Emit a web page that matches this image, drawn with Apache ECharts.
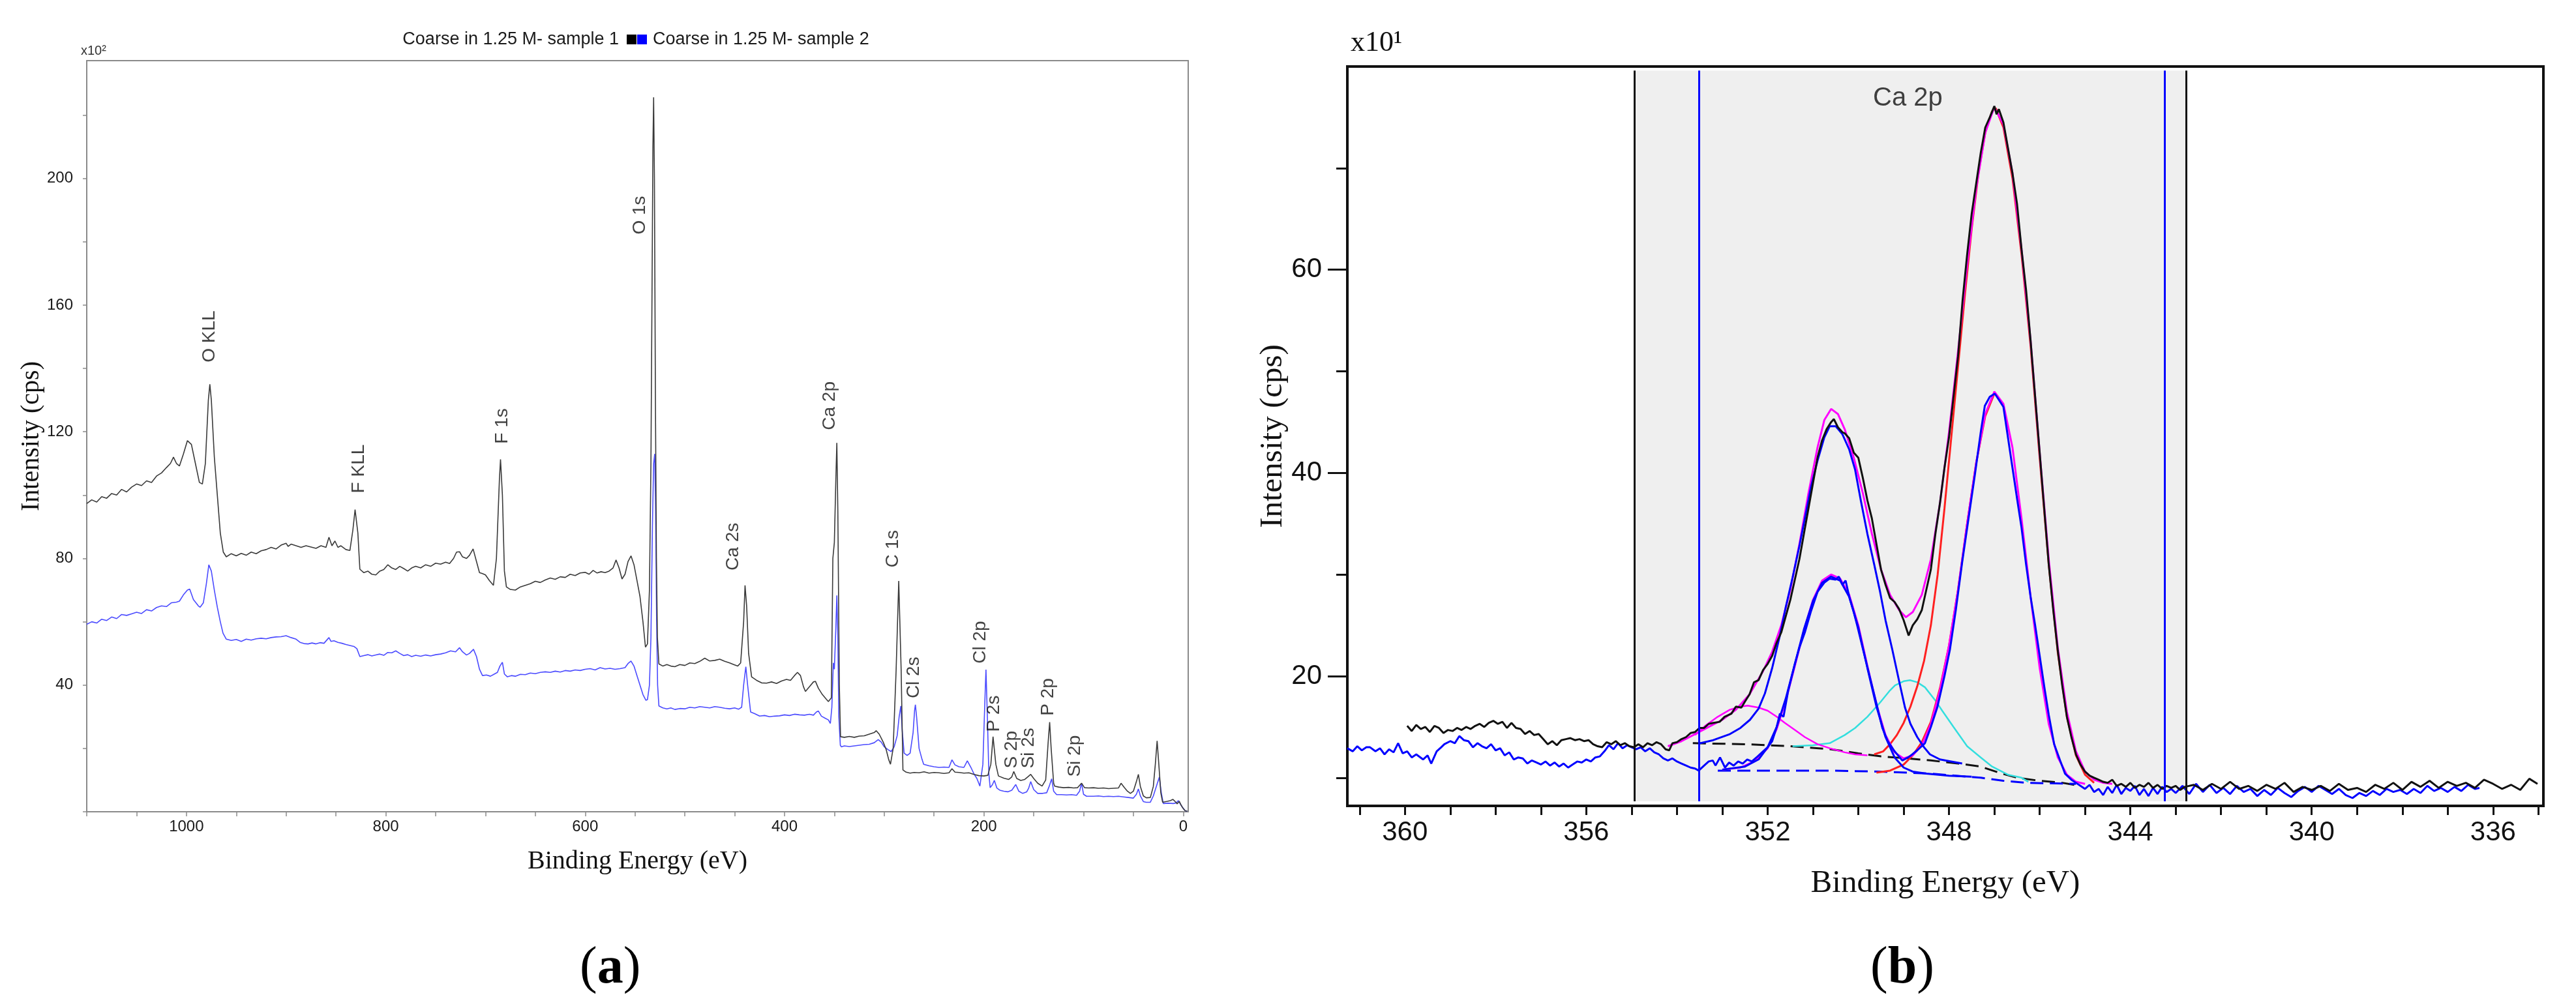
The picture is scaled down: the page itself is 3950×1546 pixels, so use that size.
<!DOCTYPE html>
<html><head><meta charset="utf-8">
<script src="https://cdn.jsdelivr.net/npm/echarts@6/dist/echarts.min.js"></script>
<style>html,body{margin:0;padding:0;background:#fff}#c{width:3950px;height:1546px}</style>
</head><body><div id="c"></div>
<script>
// ---------- Panel (a): survey spectra ----------
const surveyNameS1 = 'Coarse in 1.25 M- sample 1';
const surveyNameS2 = 'Coarse in 1.25 M- sample 2';
const surveyS1 = [[1100,97.3],[1095,98.5],[1090,97.8],[1085,99.5],[1080,99],[1075,100.5],[1070,100],[1065,101.8],[1060,101],[1055,102.5],[1050,103.5],[1045,103],[1040,104.5],[1035,104],[1030,106],[1025,107],[1020,108.7],[1016,110],[1013,112],[1010,110],[1007,109.2],[1003,113],[999,117.2],[995,116],[991,110],[987,104],[984,103.5],[981,110],[978,130],[976.5,135],[975,130],[972,112],[969,100],[966,88],[963,82],[960,80.5],[955,81.5],[950,80.8],[945,81.6],[940,81],[935,82],[930,81.5],[925,82.4],[920,82.8],[915,83.5],[910,83],[905,84.2],[900,84.8],[898,83.8],[895,84.5],[890,84],[885,83.5],[880,84],[875,83.6],[870,83.2],[865,84],[860,83.5],[857,86.7],[854,84],[851,85.5],[848,83.5],[845,84],[840,82.8],[836,82.5],[833,89],[830.8,95.4],[828,88],[826,76.6],[822,75.5],[818,76],[814,75],[810,74.8],[806,76],[802,76.5],[798,78],[794,77],[790,76.5],[786,77.5],[782,76.8],[778,76],[774,77],[770,77.5],[765,77],[760,78],[755,77.5],[750,78.5],[745,78.2],[740,78.8],[736,78.4],[732,80],[729,82],[726,82.1],[723,80.5],[719,80],[716,81],[712.4,83],[709,79],[706,75.5],[703,75.2],[700,74.8],[696,73],[692,71.5],[689,80],[686,105],[684.9,111.3],[683,100],[681,76],[679,71],[675,70.2],[670,70],[665,71],[660,71.5],[655,72],[650,72.8],[645,72.4],[640,73.2],[635,73.8],[630,73.4],[625,74.2],[620,74],[615,75],[610,74.6],[605,75.4],[600,75.6],[596,75],[592,76.2],[588,75.4],[584,75.8],[580,75.5],[576,76],[572,77],[569,79.5],[566,77],[563,73.5],[560,75],[557,79],[554,80.8],[551,78],[548,73],[545,68],[542,60],[539.5,52],[537.5,53],[535.5,70],[534,110],[533,160],[532,210],[531.3,225.6],[530.5,200],[529.5,130],[528.5,80],[527.5,55],[526,46.7],[522,46],[518,46.5],[514,46],[510,45.8],[505,46.5],[500,46.2],[495,47],[490,46.8],[485,47.5],[480,48.5],[475,47.6],[470,47.8],[465,48.2],[460,47.5],[455,47],[451,46.5],[447,46],[444,47],[441,60],[439.6,71.5],[438,65],[436,50],[433,42.6],[428,41.5],[423,40.7],[418,40.6],[413,41],[408,40.5],[403,41.3],[398,41.8],[394,41.5],[390,43],[387,44],[384,43],[381,39.5],[379,38],[375,39.5],[371,41],[369,41.2],[366,39],[362,37],[358,35.5],[356,34.8],[353,36],[351.5,80],[350,85],[348.5,105],[347.5,116.5],[346.5,95],[345,40],[343.8,23.7],[340,23.5],[335,23.8],[330,23.5],[325,23.9],[320,24],[315,24.5],[310,25],[308,25.6],[305,24.5],[301,22],[298,19.6],[295.5,16.5],[293.7,15],[291,20],[288,45],[285.4,72.9],[283,45],[281.2,13.2],[278,12.5],[274,12.2],[270,12.4],[265,12.3],[260,12.6],[255,12.2],[250,12.4],[245,12.3],[240,12.1],[235,12.3],[232,13.6],[229,12.5],[225,12.4],[220,12.2],[215,12.3],[210,11.8],[205,11.4],[200,11.3],[196,11.5],[193,15],[190.8,23.7],[188,15],[185.4,11.3],[180,10.6],[175,10.2],[172,11],[170,12.7],[167,10.5],[163,9.9],[159,10.2],[156,11],[153,11.8],[150,10.5],[146,9],[141.6,8.1],[138,10],[135.5,22],[134,28.3],[132.5,20],[130,9],[129,8.1],[125,7.8],[120,7.6],[115,7.7],[110,7.5],[106,7.6],[102,9],[99,7.6],[95,7.5],[90,7.6],[85,7.4],[80,7.5],[75,7.3],[70,7.4],[65,7.5],[62.4,9],[59,7.6],[56,6.5],[53,5.8],[50,6.5],[47,9.5],[45,11.8],[43,8],[40,5],[37,4.4],[33,4.5],[30,8],[28,15],[26.2,22.4],[24.5,15],[22.5,6],[20.7,3],[16,3.3],[13,3.5],[10.3,3.9],[8,3.2],[6,2.5],[4,3.3],[2,2],[0,1],[-2,0.3],[-4,0.2]];
const surveyS2 = [[1100,59.2],[1095,60],[1090,59.6],[1085,60.8],[1080,60.4],[1075,61.5],[1070,61],[1065,62.3],[1060,62],[1055,62.5],[1050,63],[1045,62.6],[1040,63.8],[1035,63.4],[1030,64.5],[1025,65],[1020,64.8],[1015,66],[1010,66.2],[1007,66.5],[1003,68.5],[999,70],[996.7,70.3],[993,67],[988,65],[986.2,64.6],[983,66],[980,72],[977.5,78],[976.7,78.4],[975,76],[972,70],[969,64.6],[966,60],[963.3,56.4],[960,54.5],[955,54.1],[950,54.4],[945,53.8],[940,54.5],[935,54.2],[930,54.6],[925,54.8],[920,54.6],[915,55],[910,55.2],[905,55.3],[900,55.6],[898.7,55.4],[895,55],[890,54.5],[886,53.5],[882,53.1],[878,53],[874,53.3],[870,53],[866,53.4],[862,53.2],[857,55],[855,53.8],[852,54],[848,53.5],[844,53.2],[840,52.8],[836,52.5],[832,52.2],[829,51.5],[826,49],[822,49.3],[818,49.6],[814,49.2],[810,49.5],[806,49.8],[802,49.4],[798,50.3],[794,50.2],[790,50.8],[786,50],[782,49.3],[778,49.6],[774,49],[770,49.4],[765,49.1],[760,49.5],[755,49.2],[750,49.6],[745,49.8],[740,50.2],[735,50.8],[730,50.5],[726,51.8],[723,50.5],[719,49.5],[716,50],[712,51.3],[709,49],[706,45],[703,43],[699,43.2],[695,42.8],[691,43.5],[688,44],[685.5,46],[683,47.2],[681,43.5],[678,42.6],[674,43],[670,42.8],[665,43.4],[660,43.3],[655,43.8],[650,43.6],[645,44],[640,44.2],[635,44],[630,44.4],[625,44.1],[620,44.6],[615,44.4],[610,44.8],[605,44.6],[600,45],[595,45.2],[590,44.8],[585,45.5],[580,45.1],[575,45.3],[570,45],[565,45.2],[560,45.5],[557,46.8],[554,47.6],[551,46],[548,43],[545,40],[542,37],[539,35.2],[537.5,35.4],[535.5,40],[534,55],[532.5,90],[531.3,110],[530.2,113],[529.3,95],[528.3,60],[527.3,40],[526,33.4],[522,32.8],[518,32.5],[514,32.8],[510,32.3],[505,32.6],[500,32.5],[495,33],[490,32.8],[485,33.2],[480,33],[475,32.8],[470,33.2],[465,33],[460,32.7],[455,32.5],[450,32.8],[446,32.4],[443,33],[441,40],[438.8,45.8],[437,40],[434,31.5],[430,31],[425,30.2],[420,30.4],[415,30],[410,30.2],[405,30.3],[400,30.6],[395,30.4],[390,30.8],[385,30.6],[380,30.5],[375,30.8],[371,30.5],[368,31.5],[366,31.8],[363,30.2],[359,29.5],[356,29],[354,27.9],[352.5,33],[351,47],[350,45],[348.5,58],[347.5,68.3],[346.5,55],[345.5,30],[344,21],[343,20.5],[340,20.8],[335,20.6],[330,20.8],[325,21],[320,21.2],[315,21.3],[310,21.8],[306,22.8],[303,22],[300,20.5],[296,19.6],[293,19],[290,20.5],[287,24],[285,30],[283.3,33.4],[282,26],[280,18.5],[277,17.8],[274,18.5],[271,25],[269.5,32],[268.7,33.8],[267.5,30],[265,20],[262,16.5],[260.4,15],[255,14.5],[250,14.2],[245,14],[240,14.1],[235,14],[232,16.4],[229,14.8],[225,14.2],[220,14],[216.6,16.1],[213,14],[210,12],[207,10.5],[204,8.1],[201,15],[199,35],[197.9,44.9],[196.5,30],[195,12],[193.7,7.6],[191.5,8.5],[189.5,9.9],[187,7.5],[184,6.8],[180,6.5],[176,6.3],[172,6.8],[168,8.6],[165,6.5],[161,5.8],[157,6.3],[155,7.5],[153,9.5],[150,7],[146,5.8],[141,5.8],[137,6],[134.5,8],[132,10.4],[130,6.5],[127,5.4],[122,5.4],[117,5.3],[112,5.4],[107,5.2],[104,6.5],[102,9],[100,5.5],[97,4.9],[90,4.9],[85,5],[80,4.8],[75,4.9],[70,4.8],[65,4.9],[60,4.7],[55,4.5],[50,4.3],[47,5.5],[45,7.2],[43,5],[40,3.2],[37,3],[33,3],[30,5],[27,8],[24,10.9],[22,6],[20,2.6],[15,2.7],[10,2.6],[7,2.8],[5,3.5],[3,2.5],[1,1.5],[-2,0.3],[-4,0.2]];
// peak annotations: [text, binding energy, intensity at text start]
const surveyPeakLabels = [['O KLL',976.6,141.8],['F KLL',827,100.5],['F 1s',683,116.1],['O 1s',545,182.2],['Ca 2p',354,120.4],['Ca 2s',451.3,76.1],['C 1s',290.8,77],['Cl 2s',270,35.7],['Cl 2p',202.9,46.7],['P 2s',189.5,25.1],['S 2p',172,13.6],['Si 2s',155,13.6],['P 2p',135.4,30.2],['Si 2p',108.2,10.9]];
const surveyXRange = [-5, 1100];
const surveyYRange = [0, 237.2];
const surveyXTicks = [0,50,100,150,200,250,300,350,400,450,500,550,600,650,700,750,800,850,900,950,1000,1050,1100];
const surveyXLabels = [0,200,400,600,800,1000];
const surveyYTicks = [0,20,40,60,80,100,120,140,160,180,200,220];
const surveyYLabels = [40,80,120,160,200];

// ---------- Panel (b): Ca 2p high resolution ----------
const ca2pRawS1 = [[359.95,15.1],[359.85,14.6],[359.75,15.2],[359.65,14.8],[359.55,15.0],[359.45,14.5],[359.35,15.1],[359.25,14.9],[359.15,14.4],[359.05,14.7],[358.95,14.6],[358.85,14.9],[358.75,14.7],[358.65,15.0],[358.55,14.8],[358.45,15.1],[358.35,15.3],[358.25,15.0],[358.15,15.4],[358.05,15.6],[357.95,15.3],[357.85,15.5],[357.75,14.9],[357.65,15.4],[357.55,14.9],[357.45,14.8],[357.35,14.3],[357.25,14.6],[357.15,14.2],[357.05,14.3],[356.95,13.8],[356.85,13.3],[356.75,13.6],[356.65,13.2],[356.55,13.7],[356.45,13.8],[356.35,13.9],[356.25,13.7],[356.15,13.8],[356.05,13.6],[355.95,13.7],[355.85,13.3],[355.75,13.1],[355.65,13.0],[355.55,13.5],[355.45,13.3],[355.35,13.6],[355.25,13.2],[355.15,13.4],[355.05,13.1],[354.95,13.0],[354.85,13.3],[354.75,13.0],[354.65,13.4],[354.55,13.2],[354.45,13.5],[354.35,13.3],[354.25,12.8],[354.17,12.7],[354.1,13.4],[354.0,13.5],[353.9,13.8],[353.8,14.0],[353.7,14.4],[353.6,14.5],[353.5,14.9],[353.4,14.9],[353.3,15.3],[353.2,15.4],[353.06,15.5],[352.95,16.0],[352.8,16.3],[352.7,17.0],[352.58,16.9],[352.5,17.5],[352.4,18.2],[352.3,19.4],[352.2,19.6],[352.1,20.6],[352.0,21.2],[351.9,22.0],[351.8,23.3],[351.7,24.3],[351.6,25.9],[351.5,27.5],[351.4,29.5],[351.3,31.5],[351.2,34.0],[351.1,36.5],[351.0,39.0],[350.9,41.5],[350.8,43.2],[350.7,44.3],[350.6,45.0],[350.54,45.3],[350.45,44.5],[350.35,44.0],[350.3,43.9],[350.2,43.4],[350.1,42.0],[350.0,41.5],[349.9,39.5],[349.8,37.3],[349.7,35.5],[349.6,33.0],[349.5,30.5],[349.4,29.0],[349.3,27.7],[349.2,27.3],[349.1,26.6],[349.0,25.5],[348.89,24.0],[348.8,25.0],[348.7,25.6],[348.6,26.5],[348.5,28.5],[348.4,30.5],[348.3,34.0],[348.2,37.0],[348.1,40.5],[348.0,43.5],[347.9,47.5],[347.8,51.5],[347.7,57.0],[347.6,61.5],[347.5,65.5],[347.4,68.5],[347.3,71.5],[347.2,74.0],[347.1,75.0],[347.0,76.1],[346.95,75.3],[346.9,75.8],[346.8,74.5],[346.7,72.0],[346.6,69.5],[346.5,66.5],[346.4,62.0],[346.3,58.0],[346.2,53.0],[346.1,47.5],[346.0,42.0],[345.9,36.5],[345.8,31.0],[345.7,26.5],[345.6,22.5],[345.5,19.0],[345.4,16.0],[345.3,14.0],[345.2,12.3],[345.1,11.3],[345.0,10.6],[344.9,10.2],[344.8,10.0],[344.7,9.8],[344.6,9.6],[344.5,9.5],[344.4,9.8],[344.3,9.2],[344.2,9.4],[344.1,9.1],[344.0,9.5],[343.9,9.0],[343.8,9.3],[343.7,9.1],[343.6,9.5],[343.5,9.0],[343.4,9.3],[343.3,8.9],[343.2,9.2],[343.1,9.0],[343.0,9.2],[342.9,8.8],[342.8,9.1],[342.6,9.3],[342.4,8.8],[342.2,9.4],[342.0,8.9],[341.8,9.6],[341.6,8.9],[341.4,9.2],[341.2,8.7],[341.0,9.3],[340.8,8.9],[340.6,9.5],[340.4,8.6],[340.2,9.1],[340.0,8.8],[339.8,9.2],[339.6,8.7],[339.4,9.4],[339.2,8.8],[339.0,9.0],[338.8,8.6],[338.6,9.3],[338.4,8.9],[338.2,9.5],[338.0,8.8],[337.8,9.6],[337.6,9.1],[337.4,9.7],[337.2,9.0],[337.0,9.6],[336.8,9.2],[336.6,9.5],[336.4,9.0],[336.2,9.8],[336.0,9.4],[335.8,8.9],[335.6,9.3],[335.4,8.8],[335.2,9.9],[335.02,9.4]];
const ca2pRawS2 = [[361.27,12.9],[361.15,12.6],[361.05,13.1],[360.95,12.7],[360.85,13.0],[360.77,13.0],[360.65,12.6],[360.55,12.9],[360.45,12.3],[360.35,12.8],[360.25,12.5],[360.15,13.4],[360.05,12.4],[359.95,12.6],[359.85,12.0],[359.75,12.3],[359.6,11.8],[359.5,12.2],[359.42,11.4],[359.3,12.6],[359.2,13.0],[359.13,13.3],[359.0,13.6],[358.9,13.4],[358.8,14.1],[358.7,13.7],[358.6,13.6],[358.5,13.0],[358.4,13.4],[358.3,13.1],[358.2,12.9],[358.1,13.3],[358.0,12.7],[357.9,12.9],[357.8,12.2],[357.7,12.5],[357.6,11.8],[357.5,12.0],[357.4,11.9],[357.3,11.4],[357.2,11.7],[357.1,11.5],[357.0,11.3],[356.9,11.6],[356.8,11.2],[356.7,11.5],[356.6,11.1],[356.5,11.4],[356.4,11.0],[356.3,11.3],[356.2,11.6],[356.1,11.5],[356.0,11.8],[355.9,11.6],[355.8,12.0],[355.7,12.1],[355.6,12.6],[355.5,13.2],[355.4,12.8],[355.3,13.4],[355.2,12.9],[355.1,13.2],[355.0,13.0],[354.9,12.8],[354.8,13.0],[354.7,12.6],[354.6,12.9],[354.5,12.5],[354.4,12.3],[354.3,11.9],[354.2,11.7],[354.1,11.9],[354.0,11.6],[353.9,11.4],[353.8,11.2],[353.7,11.0],[353.6,10.9],[353.52,10.7],[353.4,11.2],[353.3,11.6],[353.21,11.7],[353.15,11.2],[353.05,12.0],[352.94,11.0],[352.85,11.5],[352.75,11.2],[352.65,11.6],[352.55,11.4],[352.45,11.8],[352.35,11.6],[352.22,12.1],[352.1,12.6],[352.0,13.0],[351.9,13.6],[351.8,15.0],[351.73,16.3],[351.65,16.0],[351.55,18.5],[351.4,21.2],[351.3,22.8],[351.18,24.3],[351.05,26.3],[350.9,28.3],[350.75,29.2],[350.63,29.6],[350.5,29.5],[350.43,29.8],[350.35,29.0],[350.28,29.4],[350.2,27.8],[350.1,26.3],[350.02,24.9],[349.9,22.7],[349.75,20.0],[349.6,17.3],[349.47,14.9],[349.35,13.6],[349.2,12.6],[349.03,11.7],[348.9,12.0],[348.81,12.3],[348.7,12.7],[348.53,13.4],[348.4,15.0],[348.26,16.9],[348.1,20.0],[347.98,22.6],[347.85,26.5],[347.71,31.2],[347.57,35.5],[347.43,39.8],[347.3,44.0],[347.21,46.6],[347.1,47.5],[346.99,47.8],[346.9,47.2],[346.8,46.5],[346.7,43.5],[346.6,40.5],[346.5,37.5],[346.4,34.6],[346.3,31.0],[346.2,27.8],[346.1,25.0],[346.0,22.0],[345.9,19.0],[345.8,16.2],[345.68,13.3],[345.55,11.7],[345.44,10.4],[345.3,9.8],[345.2,9.5],[345.1,9.2],[345.0,8.9],[344.9,9.3],[344.8,8.6],[344.7,8.9],[344.6,8.3],[344.5,9.1],[344.4,8.5],[344.3,9.3],[344.2,8.4],[344.1,9.0],[344.0,8.7],[343.9,9.2],[343.8,8.3],[343.7,8.9],[343.6,8.2],[343.5,9.0],[343.4,8.4],[343.3,9.1],[343.2,8.6],[343.1,8.9],[343.0,8.5],[342.85,9.2],[342.7,8.4],[342.55,9.4],[342.4,8.6],[342.25,9.3],[342.1,8.5],[341.95,9.0],[341.8,8.4],[341.65,9.2],[341.5,8.6],[341.35,8.9],[341.2,8.2],[341.05,8.8],[340.9,8.3],[340.75,9.0],[340.6,8.5],[340.45,8.1],[340.3,8.7],[340.15,9.1],[340.0,8.6],[339.85,9.2],[339.7,8.8],[339.55,8.4],[339.4,8.9],[339.25,8.3],[339.1,8.0],[338.95,8.5],[338.8,8.2],[338.65,8.7],[338.5,8.3],[338.35,8.9],[338.2,8.6],[338.05,8.8],[337.9,8.4],[337.75,8.9],[337.6,8.5],[337.45,9.2],[337.3,8.7],[337.15,9.0],[337.0,8.6],[336.85,9.1],[336.7,8.7],[336.55,9.3],[336.4,8.9],[336.3,9.0]];
const ca2pEnvS1 = [[354.2,13.1],[353.9,13.6],[353.6,14.3],[353.3,15.0],[353.0,15.7],[352.7,16.7],[352.4,18.2],[352.1,20.5],[351.9,22.4],[351.7,25.0],[351.5,28.5],[351.3,33.0],[351.1,38.0],[350.9,42.5],[350.75,45.2],[350.6,46.3],[350.45,45.8],[350.3,44.3],[350.1,41.5],[349.9,38.0],[349.7,34.0],[349.5,30.5],[349.3,28.0],[349.1,26.5],[348.95,25.8],[348.8,26.3],[348.6,28.0],[348.4,31.5],[348.2,37.0],[348.0,44.0],[347.8,52.0],[347.6,60.5],[347.4,68.0],[347.2,73.5],[347.0,76.0],[346.8,74.3],[346.6,69.5],[346.4,62.0],[346.2,53.0],[346.0,42.0],[345.8,31.5],[345.6,22.8],[345.4,16.5],[345.2,12.6],[345.0,10.6],[344.8,9.8],[344.6,9.5],[344.4,9.4]];
const ca2pEnvS2 = [[353.0,10.8],[352.6,11.0],[352.3,11.6],[352.0,12.9],[351.8,14.8],[351.6,17.6],[351.4,21.0],[351.2,24.5],[351.0,27.5],[350.8,29.4],[350.6,30.0],[350.4,29.6],[350.2,28.0],[350.0,25.0],[349.8,21.0],[349.6,17.2],[349.4,14.2],[349.2,12.5],[349.0,11.9],[348.8,12.2],[348.6,13.2],[348.4,15.3],[348.2,18.6],[348.0,23.0],[347.8,28.5],[347.6,35.0],[347.4,41.0],[347.2,45.8],[347.0,48.0],[346.8,46.8],[346.6,42.5],[346.4,35.5],[346.2,27.8],[346.0,20.8],[345.8,15.3],[345.6,12.0],[345.4,10.3],[345.2,9.6],[345.0,9.4]];
const ca2p32S1 = [[349.65,12.3],[349.45,12.6],[349.3,13.3],[349.15,14.2],[349.0,15.4],[348.85,17.0],[348.7,19.0],[348.55,21.5],[348.4,25.0],[348.25,30.0],[348.1,36.5],[347.95,43.5],[347.8,50.5],[347.65,57.5],[347.5,64.0],[347.35,69.5],[347.2,73.5],[347.05,75.6],[346.97,75.9],[346.8,74.0],[346.6,69.0],[346.4,61.5],[346.2,52.5],[346.0,41.5],[345.8,31.0],[345.6,22.3],[345.4,16.0],[345.2,12.2],[345.0,10.3],[344.8,9.5]];
const ca2p12S1 = [[353.49,13.4],[353.2,13.7],[352.83,14.3],[352.6,14.9],[352.39,15.7],[352.2,16.8],[352.06,18.3],[351.9,20.8],[351.73,24.0],[351.6,26.8],[351.45,29.7],[351.3,32.8],[351.18,35.5],[351.05,38.5],[350.9,41.2],[350.75,43.5],[350.63,44.6],[350.5,44.6],[350.35,43.8],[350.2,42.3],[350.07,40.3],[349.95,37.4],[349.8,34.0],[349.65,31.0],[349.52,28.3],[349.4,25.5],[349.25,22.6],[349.1,19.5],[348.97,16.9],[348.85,15.3],[348.7,14.0],[348.55,13.0],[348.42,12.3],[348.2,11.8],[347.95,11.6],[347.71,11.4]];
const ca2pCyanS1 = [[351.45,13.1],[351.0,13.2],[350.63,13.4],[350.3,14.2],[350.07,14.9],[349.8,16.0],[349.52,17.4],[349.3,18.6],[349.19,19.1],[349.0,19.5],[348.86,19.6],[348.7,19.4],[348.53,18.9],[348.3,17.6],[348.15,16.6],[347.9,15.0],[347.6,13.1],[347.3,12.0],[347.05,11.1],[346.7,10.3],[346.4,10.0],[346.25,9.6]];
const ca2pShakeS1 = [[353.6,14.2],[353.38,15.1],[353.1,16.0],[352.83,16.7],[352.6,17.0],[352.44,17.1],[352.2,16.9],[352.0,16.6],[351.8,16.0],[351.62,15.4],[351.4,14.7],[351.18,14.0],[350.9,13.3],[350.63,12.9],[350.3,12.5],[350.07,12.3],[349.8,12.2]];
const ca2p12S2 = [[353.0,10.8],[352.5,11.1],[352.2,11.8],[352.0,13.0],[351.8,15.0],[351.6,17.8],[351.4,21.2],[351.2,24.6],[351.0,27.4],[350.8,29.2],[350.6,29.8],[350.4,29.4],[350.2,27.8],[350.0,24.8],[349.8,20.8],[349.6,17.0],[349.4,14.0],[349.2,12.0],[349.0,11.0],[348.8,10.6],[348.5,10.4],[348.0,10.2],[347.5,10.1]];
const ca2p32S2 = [[349.6,10.5],[349.3,10.7],[349.0,11.3],[348.8,12.2],[348.6,13.5],[348.4,15.5],[348.2,18.8],[348.0,23.0],[347.8,28.5],[347.6,35.0],[347.4,41.0],[347.2,45.6],[347.0,47.8]];
const ca2pBaseS1 = [[353.65,13.4],[352.5,13.3],[351.5,13.1],[350.6,12.8],[350.0,12.4],[349.5,12.1],[348.9,11.9],[348.4,11.7],[347.8,11.4],[347.3,11.1],[346.9,10.5],[346.5,10.0],[346.0,9.7],[345.5,9.5],[345.23,9.3]];
const ca2pBaseS2 = [[353.1,10.7],[351.5,10.7],[350.6,10.7],[349.5,10.6],[348.4,10.4],[347.3,10.0],[346.8,9.7],[346.3,9.5],[345.2,9.4]];
const ca2pRegionS1 = [354.94, 342.77];
const ca2pRegionS2 = [353.52, 343.25];
const ca2pLabel = ['Ca 2p', 348.9, 76.8];
const ca2pXRange = [334.89, 361.27];
const ca2pYRange = [7.23, 80];
const ca2pXTicks = [335,336,337,338,339,340,341,342,343,344,345,346,347,348,349,350,351,352,353,354,355,356,357,358,359,360,361];
const ca2pXLabels = [336,340,344,348,352,356,360];
const ca2pYLabels = [20,40,60];
const ca2pYMinorTicks = [10,30,50,70];

// ---------- chart ----------
const SANS = 'Liberation Sans', SERIF = 'Liberation Serif';
const plain = v => String(v);
const chart = echarts.init(document.getElementById('c'), null, {renderer: 'canvas'});
const yTop = ca2pYRange[1] - 0.4, yBot = ca2pYRange[0] + 0.45;
const line = (data, color, width, extra) => Object.assign({
  type: 'line', xAxisIndex: 1, yAxisIndex: 1, data: data, symbol: 'none', silent: true,
  lineStyle: {color: color, width: width}, itemStyle: {color: color}, z: 3
}, extra || {});
const vline = (x, color) => [{coord: [x, yTop], lineStyle: {color: color, width: 3, type: 'solid'}}, {coord: [x, yBot], lineStyle: {color: color, width: 3, type: 'solid'}}];

chart.setOption({
  animation: false,
  backgroundColor: '#ffffff',
  grid: [
    {left: 133, top: 93, width: 1689, height: 1152, show: true, borderColor: '#8a8a8a', borderWidth: 2, outerBoundsMode: 'none'},
    {left: 2066, top: 102, width: 1834, height: 1134, show: true, borderColor: '#111', borderWidth: 4, outerBoundsMode: 'none'}
  ],
  legend: [
    {data: [{name: surveyNameS1, icon: 'rect', itemStyle: {color: '#000'}}], align: 'right', right: 3950 - 976, top: 47,
     padding: 0, itemWidth: 15, itemHeight: 15, selectedMode: false,
     textStyle: {fontFamily: SANS, fontSize: 27, color: '#1a1a1a', padding: [0, 7, 0, 0]}},
    {data: [{name: surveyNameS2, icon: 'rect', itemStyle: {color: '#0000ff'}}], align: 'left', left: 977, top: 47,
     padding: 0, itemWidth: 15, itemHeight: 15, selectedMode: false,
     textStyle: {fontFamily: SANS, fontSize: 27, color: '#1a1a1a', padding: [0, 0, 0, 4]}}
  ],
  xAxis: [
    {type: 'value', gridIndex: 0, min: surveyXRange[0], max: surveyXRange[1], inverse: true,
     axisLine: {onZero: false, lineStyle: {color: '#8a8a8a', width: 2}},
     axisTick: {show: true, length: 7, customValues: surveyXTicks, lineStyle: {color: '#8a8a8a', width: 1.5}},
     axisLabel: {customValues: surveyXLabels, formatter: plain, fontFamily: SANS, fontSize: 24, color: '#1a1a1a', margin: 11},
     splitLine: {show: false},
     name: 'Binding Energy (eV)', nameLocation: 'middle', nameGap: 56,
     nameTextStyle: {fontFamily: SERIF, fontSize: 40, color: '#111'}},
    {type: 'value', gridIndex: 1, min: ca2pXRange[0], max: ca2pXRange[1], inverse: true,
     axisLine: {onZero: false, lineStyle: {color: '#111', width: 4}},
     axisTick: {show: true, length: 14, customValues: ca2pXTicks, lineStyle: {color: '#111', width: 3}},
     axisLabel: {customValues: ca2pXLabels, formatter: plain, fontFamily: SANS, fontSize: 42, color: '#111', margin: 20},
     splitLine: {show: false},
     name: 'Binding Energy (eV)', nameLocation: 'middle', nameGap: 95,
     nameTextStyle: {fontFamily: SERIF, fontSize: 49, color: '#111'}}
  ],
  yAxis: [
    {type: 'value', gridIndex: 0, position: 'left', min: surveyYRange[0], max: surveyYRange[1],
     axisLine: {show: true, onZero: false, lineStyle: {color: '#8a8a8a', width: 2}},
     axisTick: {show: true, length: 6, customValues: surveyYTicks, lineStyle: {color: '#8a8a8a', width: 1.5}},
     axisLabel: {customValues: surveyYLabels, formatter: plain, fontFamily: SANS, fontSize: 24, color: '#1a1a1a', margin: 21},
     splitLine: {show: false},
     name: 'Intensity (cps)', nameLocation: 'middle', nameGap: 58,
     nameTextStyle: {fontFamily: SERIF, fontSize: 40, color: '#111'}},
    {type: 'value', gridIndex: 1, position: 'left', min: ca2pYRange[0], max: ca2pYRange[1],
     axisLine: {show: true, onZero: false, lineStyle: {color: '#111', width: 4}},
     axisTick: {show: true, length: 30, customValues: ca2pYLabels, lineStyle: {color: '#111', width: 3}},
     axisLabel: {customValues: ca2pYLabels, formatter: plain, fontFamily: SANS, fontSize: 42, color: '#111', margin: 39},
     splitLine: {show: false},
     name: 'Intensity (cps)', nameLocation: 'middle', nameGap: 82,
     nameTextStyle: {fontFamily: SERIF, fontSize: 49, color: '#111'}},
    {type: 'value', gridIndex: 1, position: 'left', offset: 0, min: ca2pYRange[0], max: ca2pYRange[1],
     axisLine: {show: false, onZero: false}, axisLabel: {show: false}, splitLine: {show: false},
     axisTick: {show: true, length: 17, customValues: ca2pYMinorTicks, lineStyle: {color: '#111', width: 3}}}
  ],
  graphic: [
    {type: 'text', left: 124, top: 68, silent: true, style: {text: 'x10²', fontFamily: SANS, fontSize: 20, fill: '#333'}},
    {type: 'text', left: 2071, top: 44, silent: true, style: {text: 'x10¹', fontFamily: SERIF, fontSize: 44, fill: '#111'}},
    {type: 'text', left: 889, top: 1446, silent: true, style: {text: '{p|(}{b|a}{p|)}', fill: '#000',
      rich: {p: {fontFamily: SERIF, fontSize: 80, fill: '#000'}, b: {fontFamily: SERIF, fontSize: 80, fontWeight: 'bold', fill: '#000'}}}},
    {type: 'text', left: 2868, top: 1446, silent: true, style: {text: '{p|(}{b|b}{p|)}', fill: '#000',
      rich: {p: {fontFamily: SERIF, fontSize: 80, fill: '#000'}, b: {fontFamily: SERIF, fontSize: 80, fontWeight: 'bold', fill: '#000'}}}}
  ],
  series: [
    // panel (a)
    {type: 'line', name: surveyNameS2, xAxisIndex: 0, yAxisIndex: 0, data: surveyS2, symbol: 'none', silent: true,
     lineStyle: {color: '#4b4bff', width: 1.6}, itemStyle: {color: '#0000ff'}, z: 2},
    {type: 'line', name: surveyNameS1, xAxisIndex: 0, yAxisIndex: 0, data: surveyS1, symbol: 'none', silent: true,
     lineStyle: {color: '#3a3a3a', width: 1.6}, itemStyle: {color: '#000'}, z: 3},
    {type: 'scatter', xAxisIndex: 0, yAxisIndex: 0, silent: true, symbolSize: 1, z: 5,
     data: surveyPeakLabels.map(d => ({name: d[0], value: [d[1], d[2]]})),
     itemStyle: {color: 'rgba(0,0,0,0)'},
     label: {show: true, formatter: '{b}', rotate: 90, position: [0, 0], align: 'left', verticalAlign: 'middle',
             fontFamily: SANS, fontSize: 28, color: '#111'}},
    // panel (b): shaded region and boundary lines
    {type: 'line', xAxisIndex: 1, yAxisIndex: 1, data: [], z: 0, silent: true,
     markArea: {silent: true, itemStyle: {color: '#efefef'},
       data: [[{coord: [ca2pRegionS1[0], yTop]}, {coord: [ca2pRegionS1[1], yBot]}]]}},
    {type: 'line', xAxisIndex: 1, yAxisIndex: 1, data: [], z: 1, silent: true,
     markLine: {silent: true, symbol: ['none', 'none'], label: {show: false}, lineStyle: {type: 'solid', width: 3},
       data: [vline(ca2pRegionS1[0], '#111'), vline(ca2pRegionS1[1], '#111'), vline(ca2pRegionS2[0], '#0000ff'), vline(ca2pRegionS2[1], '#0000ff')]}},
    line(ca2pBaseS1, '#111', 3, {lineStyle: {color: '#111', width: 3, type: [20, 10]}}),
    line(ca2pBaseS2, '#0000ff', 3, {lineStyle: {color: '#0000ff', width: 3, type: [20, 10]}}),
    line(ca2pCyanS1, '#33dede', 2.5),
    line(ca2pShakeS1, '#ff00ff', 2.5),
    line(ca2p32S2, '#ff2020', 3),
    line(ca2p32S1, '#ff2020', 3),
    line(ca2pEnvS1, '#ff00ff', 3),
    line(ca2pEnvS2, '#ff00ff', 3),
    line(ca2p12S1, '#0000ff', 3),
    line(ca2p12S2, '#0000ff', 3),
    line(ca2pRawS2, '#0000ff', 3, {z: 4}),
    line(ca2pRawS1, '#111', 3, {z: 4}),
    {type: 'scatter', xAxisIndex: 1, yAxisIndex: 1, silent: true, symbolSize: 1, z: 5,
     data: [{name: ca2pLabel[0], value: [ca2pLabel[1], ca2pLabel[2]]}],
     itemStyle: {color: 'rgba(0,0,0,0)'},
     label: {show: true, formatter: '{b}', position: [0, 0], align: 'center', verticalAlign: 'middle',
             fontFamily: SANS, fontSize: 40, color: '#111'}}
  ]
});
</script></body></html>
